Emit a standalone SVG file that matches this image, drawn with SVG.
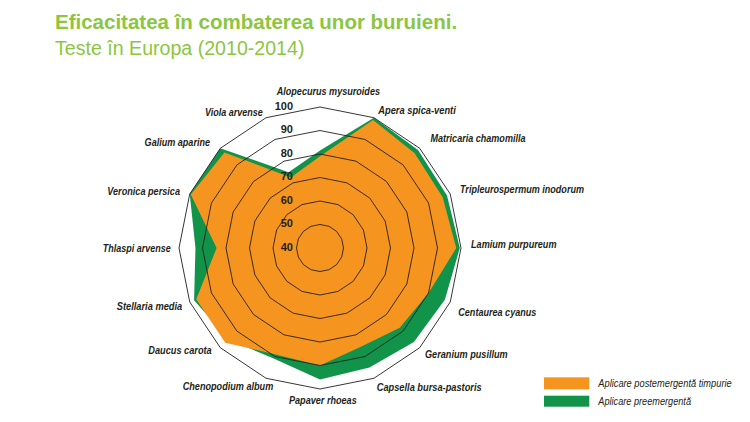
<svg xmlns="http://www.w3.org/2000/svg" width="750" height="422" viewBox="0 0 750 422">
<style>
.title{font-family:"Liberation Sans",Arial,sans-serif;fill:#8CC63F}
.lbl{font-family:"Liberation Sans",Arial,sans-serif;font-size:11px;font-weight:bold;font-style:italic;fill:#231F20}
.scale{font-family:"Liberation Sans",Arial,sans-serif;font-size:11px;font-weight:bold;fill:#231F20;text-anchor:end}
.leg{font-family:"Liberation Sans",Arial,sans-serif;font-size:10.5px;font-style:italic;fill:#231F20}
.ring{fill:none;stroke:#231F20;stroke-width:0.9;stroke-linejoin:miter}
.orange{fill:#F5941F}
.green{fill:#12934A}
</style>
<rect width="750" height="422" fill="#FFFFFF"/>
<g id="title">
<text class="title" x="55" y="29" font-size="20.5" font-weight="bold">Eficacitatea în combaterea unor buruieni.</text>
<text class="title" x="55" y="55" font-size="19.6">Teste în Europa (2010-2014)</text>
</g>
<g id="series">
<polygon id="series-pre" class="green" points="320,150.5 373.96,117.73 418.04,149.96 447.01,195.39 459.83,248 444.84,299.71 413.89,341.89 369.46,367.41 320,379.6 274.14,358.73 228.61,339.39 194.08,300.16 195.45,248 189.73,194.04 220.3,148.3 288.6,172.2"/>
<polygon id="series-post" class="orange" points="320,156.3 373.06,119.9 414.72,153.28 442.67,197.19 456.3,248 428.56,292.96 399.76,327.76 360.92,346.79 320,365.5 275.93,354.38 225.28,342.72 196.25,299.26 216.6,248 190.81,194.49 224.45,152.45 290.8,177.5"/>
</g>
<g id="grid">
<polygon class="ring" points="320,107 373.96,117.73 419.7,148.3 450.27,194.04 461,248 450.27,301.96 419.7,347.7 373.96,378.27 320,389 266.04,378.27 220.3,347.7 189.73,301.96 179,248 189.73,194.04 220.3,148.3 266.04,117.73"/>
<polygon class="ring" points="320,130.5 364.96,139.44 403.09,164.91 428.56,203.04 437.5,248 428.56,292.96 403.09,331.09 364.96,356.56 320,365.5 275.04,356.56 236.91,331.09 211.44,292.96 202.5,248 211.44,203.04 236.91,164.91 275.04,139.44"/>
<polygon class="ring" points="320,154 355.97,161.16 386.47,181.53 406.84,212.03 414,248 406.84,283.97 386.47,314.47 355.97,334.84 320,342 284.03,334.84 253.53,314.47 233.16,283.97 226,248 233.16,212.03 253.53,181.53 284.03,161.16"/>
<polygon class="ring" points="320,177.5 346.98,182.87 369.85,198.15 385.13,221.02 390.5,248 385.13,274.98 369.85,297.85 346.98,313.13 320,318.5 293.02,313.13 270.15,297.85 254.87,274.98 249.5,248 254.87,221.02 270.15,198.15 293.02,182.87"/>
<polygon class="ring" points="320,201 337.99,204.58 353.23,214.77 363.42,230.01 367,248 363.42,265.99 353.23,281.23 337.99,291.42 320,295 302.01,291.42 286.77,281.23 276.58,265.99 273,248 276.58,230.01 286.77,214.77 302.01,204.58"/>
<polygon class="ring" points="320,224.5 328.99,226.29 336.62,231.38 341.71,239.01 343.5,248 341.71,256.99 336.62,264.62 328.99,269.71 320,271.5 311.01,269.71 303.38,264.62 298.29,256.99 296.5,248 298.29,239.01 303.38,231.38 311.01,226.29"/>
</g>
<g id="scale">
<text class="scale" x="293" y="109.5">100</text>
<text class="scale" x="293" y="133">90</text>
<text class="scale" x="293" y="156.5">80</text>
<text class="scale" x="293" y="180">70</text>
<text class="scale" x="293" y="203.5">60</text>
<text class="scale" x="293" y="227">50</text>
<text class="scale" x="293" y="250.5">40</text>
</g>
<g id="axis-labels">
<text class="lbl" x="276.7" y="95" textLength="103.3" lengthAdjust="spacingAndGlyphs">Alopecurus mysuroides</text>
<text class="lbl" x="378.3" y="114.3" textLength="77.5" lengthAdjust="spacingAndGlyphs">Apera spica-venti</text>
<text class="lbl" x="430.5" y="142" textLength="95" lengthAdjust="spacingAndGlyphs">Matricaria chamomilla</text>
<text class="lbl" x="460" y="193.3" textLength="124" lengthAdjust="spacingAndGlyphs">Tripleurospermum inodorum</text>
<text class="lbl" x="471" y="248.3" textLength="85.5" lengthAdjust="spacingAndGlyphs">Lamium purpureum</text>
<text class="lbl" x="458.3" y="316" textLength="78" lengthAdjust="spacingAndGlyphs">Centaurea cyanus</text>
<text class="lbl" x="425" y="357.7" textLength="82.7" lengthAdjust="spacingAndGlyphs">Geranium pusillum</text>
<text class="lbl" x="376.7" y="391" textLength="105" lengthAdjust="spacingAndGlyphs">Capsella bursa-pastoris</text>
<text class="lbl" x="289" y="404.3" textLength="67.7" lengthAdjust="spacingAndGlyphs">Papaver rhoeas</text>
<text class="lbl" x="182.7" y="390" textLength="90.6" lengthAdjust="spacingAndGlyphs">Chenopodium album</text>
<text class="lbl" x="148.3" y="354.3" textLength="63.4" lengthAdjust="spacingAndGlyphs">Daucus carota</text>
<text class="lbl" x="116.7" y="309.5" textLength="65.6" lengthAdjust="spacingAndGlyphs">Stellaria media</text>
<text class="lbl" x="102.7" y="251.7" textLength="68" lengthAdjust="spacingAndGlyphs">Thlaspi arvense</text>
<text class="lbl" x="107.3" y="195" textLength="72.7" lengthAdjust="spacingAndGlyphs">Veronica persica</text>
<text class="lbl" x="144.6" y="145.7" textLength="65.4" lengthAdjust="spacingAndGlyphs">Galium aparine</text>
<text class="lbl" x="205" y="115.7" textLength="57.7" lengthAdjust="spacingAndGlyphs">Viola arvense</text>
</g>
<g id="legend">
<rect class="orange" x="544" y="377.3" width="45.3" height="12"/>
<rect class="green" x="544" y="395.7" width="45.3" height="11"/>
<text class="leg" x="598.3" y="387.3" textLength="133.4" lengthAdjust="spacingAndGlyphs">Aplicare postemergentă timpurie</text>
<text class="leg" x="598.3" y="405" textLength="92.7" lengthAdjust="spacingAndGlyphs">Aplicare preemergentă</text>
</g>
</svg>
